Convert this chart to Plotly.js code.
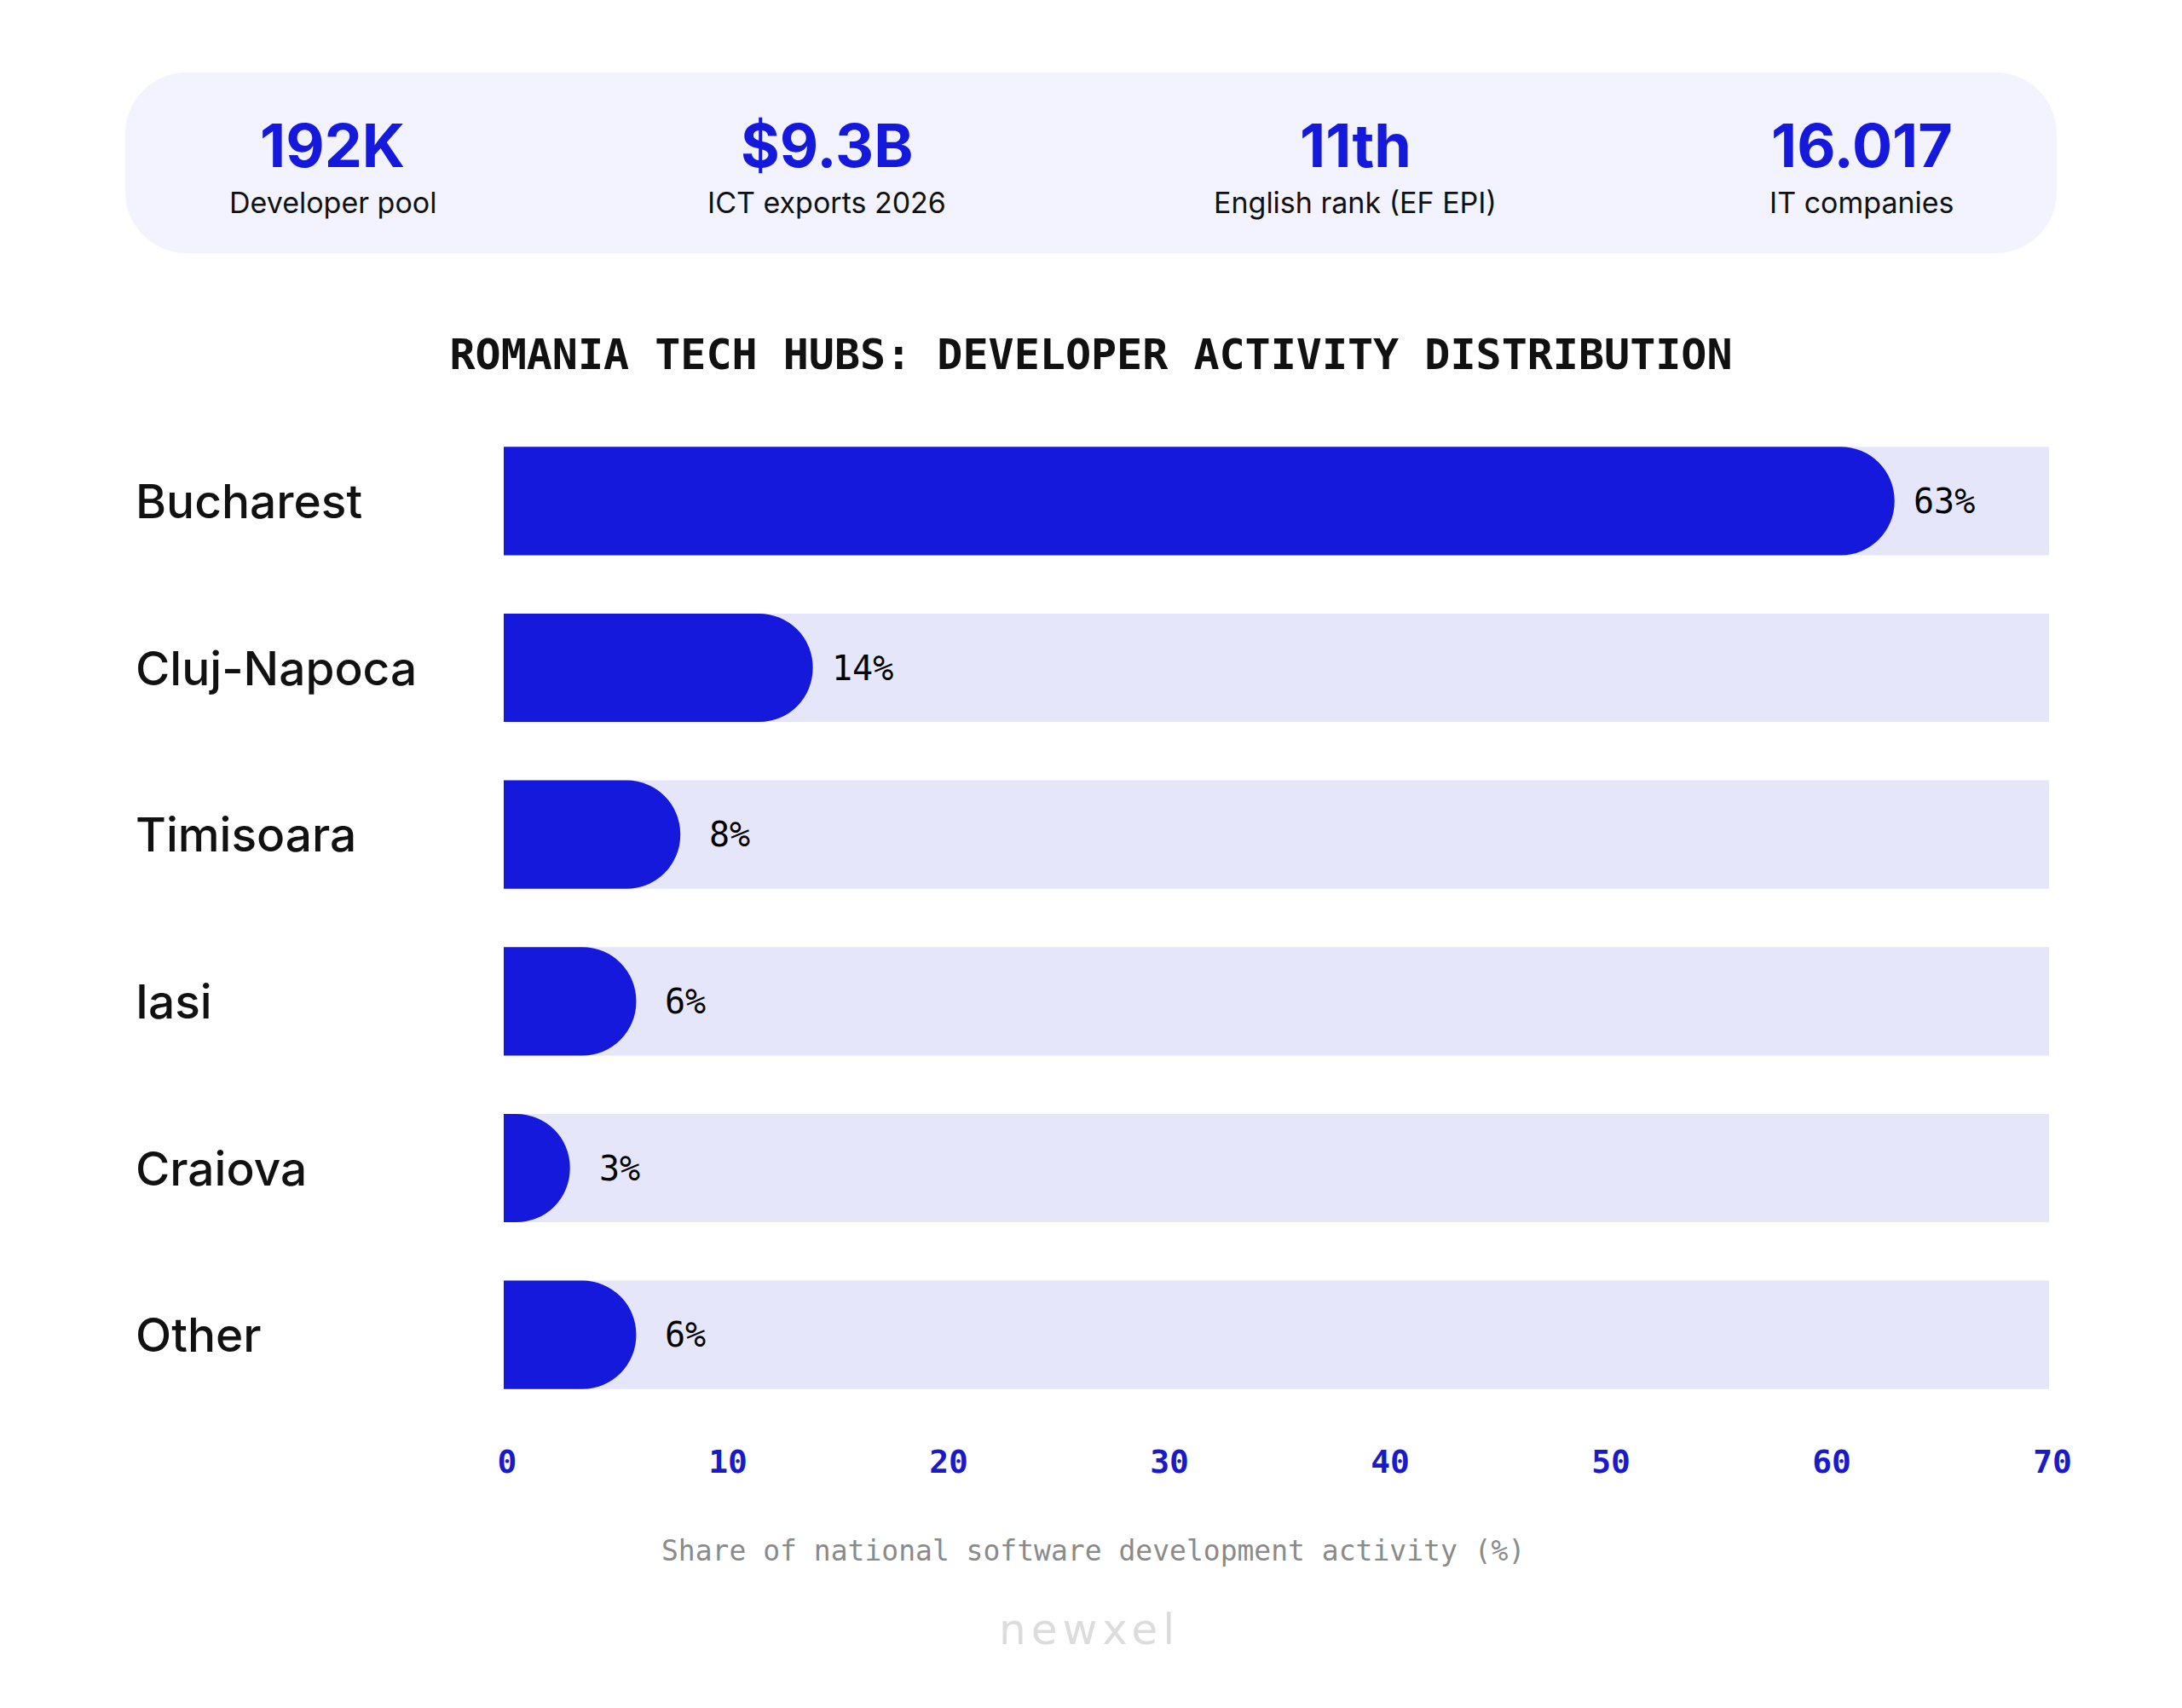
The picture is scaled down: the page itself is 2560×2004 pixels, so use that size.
<!DOCTYPE html>
<html>
<head>
<meta charset="utf-8">
<script src="https://cdn.plot.ly/plotly-3.0.1.min.js"></script>
<style>
  html, body { margin: 0; padding: 0; background: #ffffff; }
  #chart { width: 2560px; height: 2004px; }
</style>
</head>
<body>
<div id="chart"></div>
<script>
// ---- Data ----
const hubs = ['Bucharest', 'Cluj-Napoca', 'Timisoara', 'Iasi', 'Craiova', 'Other'];
const shares = [63, 14, 8, 6, 3, 6];
const axisMax = 70;
const tickValues = [0, 10, 20, 30, 40, 50, 60, 70];

const statValues = ['192K', '$9.3B', '11th', '16.017'];
const statLabels = ['Developer pool', 'ICT exports 2026', 'English rank (EF EPI)', 'IT companies'];

const chartTitle = 'ROMANIA TECH HUBS: DEVELOPER ACTIVITY DISTRIBUTION';
const axisCaption = 'Share of national software development activity (%)';
const brand = 'newxel';

// ---- Page geometry (pixels) ----
const W = 2560, H = 2004;
const M = { l: 591, r: 156, t: 490, b: 340 };
const plotW = W - M.l - M.r;
const plotH = H - M.t - M.b;
// convert page pixel positions to paper coordinates
const px = X => (X - M.l) / plotW;
const py = Y => (H - M.b - Y) / plotH;

const BAR_WIDTH = 0.65;
const capRadius = Math.floor(BAR_WIDTH * plotH / hubs.length / 2);

const BLUE = '#1519DB';
const TRACK = '#E6E6FA';
const PANEL = '#F2F3FE';
const MONO = 'DejaVu Sans Mono, monospace';
const SANS = 'Inter, Roboto, sans-serif';

// rounded panel behind the headline figures
function roundedRect(x0, y0, x1, y1, r) {
  const k = 0.5523 * r;
  const P = (X, Y) => `${px(X)},${py(Y)}`;
  return [
    `M ${P(x0 + r, y0)}`,
    `L ${P(x1 - r, y0)}`,
    `C ${P(x1 - r + k, y0)} ${P(x1, y0 + r - k)} ${P(x1, y0 + r)}`,
    `L ${P(x1, y1 - r)}`,
    `C ${P(x1, y1 - r + k)} ${P(x1 - r + k, y1)} ${P(x1 - r, y1)}`,
    `L ${P(x0 + r, y1)}`,
    `C ${P(x0 + r - k, y1)} ${P(x0, y1 - r + k)} ${P(x0, y1 - r)}`,
    `L ${P(x0, y0 + r)}`,
    `C ${P(x0, y0 + r - k)} ${P(x0 + r - k, y0)} ${P(x0 + r, y0)}`,
    'Z'
  ].join(' ');
}

const traces = [
  // full-scale track behind each hub
  {
    type: 'bar',
    orientation: 'h',
    y: hubs,
    x: hubs.map(() => axisMax),
    width: BAR_WIDTH,
    xaxis: 'x', yaxis: 'y',
    marker: { color: TRACK, line: { width: 0 } },
    hoverinfo: 'skip',
    showlegend: false
  },
  // share of activity, with a rounded cap
  {
    type: 'bar',
    orientation: 'h',
    y: hubs,
    x: shares,
    width: BAR_WIDTH,
    xaxis: 'x', yaxis: 'y2',
    marker: { color: BLUE, line: { width: 0 }, cornerradius: capRadius },
    hoverinfo: 'skip',
    showlegend: false
  }
];

const annotations = [];

// category names, left aligned
hubs.forEach(h => {
  annotations.push({
    x: px(157), xref: 'paper', xanchor: 'left',
    y: h, yref: 'y', yanchor: 'middle',
    text: h, showarrow: false,
    font: { family: SANS, size: 55, weight: 500, color: '#111111' }
  });
});

// value labels just past each bar end
hubs.forEach((h, i) => {
  annotations.push({
    x: shares[i], xref: 'x', xanchor: 'center', xshift: 58,
    y: h, yref: 'y', yanchor: 'middle',
    text: shares[i] + '%', showarrow: false,
    font: { family: MONO, size: 40, color: '#000000' }
  });
});

// headline figures
const statX = [390, 970, 1590, 2184];
statValues.forEach((v, i) => {
  annotations.push({
    x: px(statX[i]), xref: 'paper', xanchor: 'center',
    y: py(170), yref: 'paper', yanchor: 'middle',
    text: '<b>' + v + '</b>', showarrow: false,
    font: { family: SANS, size: 70, color: BLUE }
  });
  annotations.push({
    x: px(statX[i]), xref: 'paper', xanchor: 'center',
    y: py(237), yref: 'paper', yanchor: 'middle',
    text: statLabels[i], showarrow: false,
    font: { family: SANS, size: 34, color: '#111111' }
  });
});

// axis caption
annotations.push({
  x: px(1282), xref: 'paper', xanchor: 'center',
  y: py(1819), yref: 'paper', yanchor: 'middle',
  text: axisCaption, showarrow: false,
  font: { family: MONO, size: 33, color: '#8A8A8A' }
});

// brand mark
annotations.push({
  x: px(1278), xref: 'paper', xanchor: 'center',
  y: py(1912), yref: 'paper', yanchor: 'middle',
  text: brand, showarrow: false,
  font: { family: 'DejaVu Sans, sans-serif', size: 50, color: '#DCDCDC' }
});

const yCommon = {
  type: 'category',
  range: [hubs.length - 0.5, -0.5],
  showticklabels: false,
  showgrid: false, zeroline: false, showline: false,
  ticks: '',
  fixedrange: true
};

const layout = {
  width: W, height: H,
  margin: M,
  paper_bgcolor: '#ffffff',
  plot_bgcolor: '#ffffff',
  title: {
    text: '<b>' + chartTitle + '</b>',
    font: { family: MONO, size: 50, color: '#111111' },
    x: 0.5, xref: 'container', xanchor: 'center',
    y: 1 - 415 / H, yref: 'container', yanchor: 'middle'
  },
  xaxis: {
    range: [0, axisMax],
    tickvals: tickValues,
    ticktext: tickValues.map(String),
    showgrid: false, zeroline: false, showline: false,
    ticks: '',
    ticklabelstandoff: 25,
    ticklabelshift: 4,
    tickfont: { family: MONO, size: 38, weight: 'bold', color: '#1A1AC8' },
    fixedrange: true
  },
  yaxis: Object.assign({}, yCommon),
  yaxis2: Object.assign({}, yCommon, { overlaying: 'y' }),
  shapes: [
    {
      type: 'path', xref: 'paper', yref: 'paper',
      path: roundedRect(147, 85, 2413, 297, 72),
      fillcolor: PANEL, line: { width: 0 }, layer: 'below'
    }
  ],
  annotations: annotations
};

Plotly.newPlot('chart', traces, layout, { staticPlot: true, displayModeBar: false }).then(gd => {
  // open up the brand mark's lettering
  gd.querySelectorAll('.annotation-text').forEach(t => {
    if (t.textContent === brand) t.style.letterSpacing = '6px';
  });
});
</script>
</body>
</html>
